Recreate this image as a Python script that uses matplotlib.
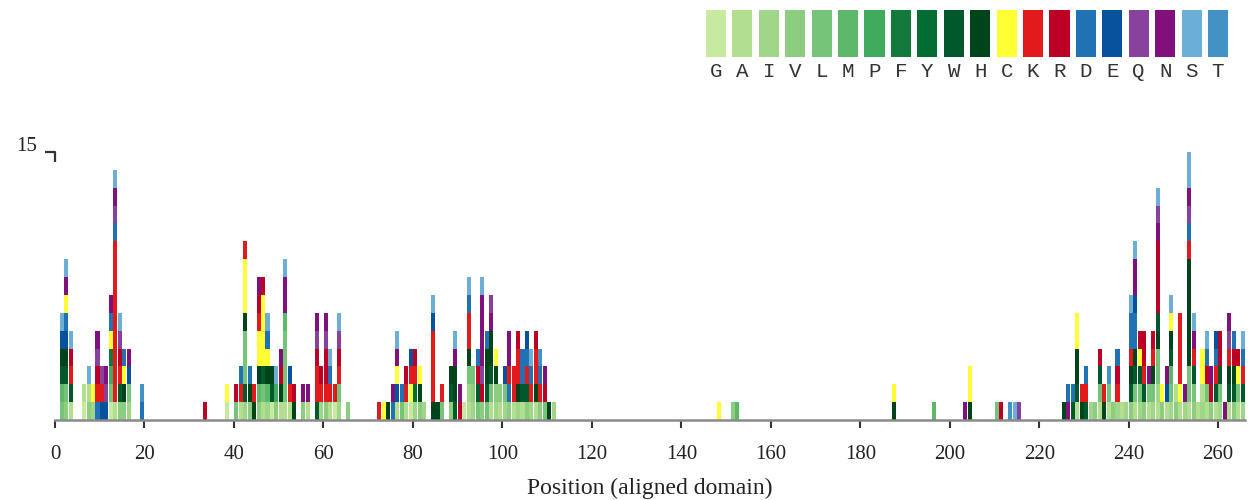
import matplotlib
matplotlib.use("Agg")
import matplotlib.pyplot as plt

# ---------------- data ----------------
residues = list("GAIVLMPFYWHCKRDEQNST")
residue_colors = [
    "#c7e9a0", "#b2df8f", "#9fd68a", "#8ccd80", "#76c47a", "#5db86a", "#41ab5d",
    "#137a3c", "#006d33", "#00592d", "#00441b", "#ffff33", "#e31a1c", "#bd0026",
    "#2171b5", "#08519c", "#88419d", "#810f7c", "#6baed6", "#4292c6",
]

# aligned positions that carry residues, and the residues stacked there (bottom -> top)
positions = [
    2, 3, 4, 7, 8, 9, 10, 11, 12, 13, 14, 15, 16, 17, 20,
    34, 39, 41, 42, 43, 44, 45, 46, 47, 48, 49, 50, 51, 52, 53, 54, 56, 57,
    59, 60, 61, 62, 63, 64, 66,
    73, 74, 75, 76, 77, 78, 79, 80, 81, 82, 83, 85, 86, 87, 89, 90, 91, 92,
    93, 94, 95, 96, 97, 98, 99, 100, 101, 102, 103, 104, 105, 106, 107, 108,
    109, 110, 111, 112,
    149, 152, 153, 188, 197, 204, 205, 211, 212, 214, 215, 216,
    226, 227, 228, 229, 230, 231, 232, 233, 234, 235, 236, 237, 238, 239, 240,
    241, 242, 243, 244, 245, 246, 247, 248, 249, 250, 251, 252, 253, 254, 255,
    256, 257, 258, 259, 260, 261, 262, 263, 264, 265, 266,
]
stacks = [
    "LMWHES", "VLWHEDCNS", "AWKRS", "GA", "VAS", "IC", "DKRQN", "EKQ", "EQN",
    "GLPFCDN", "AKKKKKKKKKDQNS", "VWKRQS", "VHCD", "ILEN", "DT",
    "R", "GC", "LR", "AKD", "IWLLLHCCCK", "VHD", "HK", "VMHCCKRN", "ALWCCCCR",
    "IMHCDS", "GWH", "VPS", "AHRN", "ALLLLMNNS", "AKE", "HR", "VN", "AN",
    "WKKRQN", "IKR", "VKRRQN", "AKDS", "GK", "ILKRQS", "V",
    "K", "C", "H", "DN", "AECNS", "LD", "AKR", "GCKE", "IYKR", "VHC", "I",
    "HKKKKES", "H", "LK", "VWH", "WHHNS", "RN", "G",
    "AILHKKDS", "IVL", "LWRD", "VRQNNNNS", "LWHHD", "ALWHHNQ", "IVHC", "AV",
    "ILE", "VDKNN", "AKK", "IHKKR", "AWDD", "VWKDE", "IKDS", "AHKKR",
    "VKDT", "LRN", "H", "I",
    "C", "V", "M", "HC", "M", "N", "HCC", "L", "R", "T", "S", "Q",
    "H", "ND", "WD", "AWHHCC", "HK", "WKD", "I", "V", "ALWR", "HK", "ALT", "V",
    "IKRD", "A", "I",
    "VWHKDDS", "ALWHDDENNS", "ILWCR", "VWKRR", "ALN", "ILHKR", "AILLHWRRRRNQS",
    "VC", "AEN", "ILMWHCS", "VA", "ACKKKK", "IN", "ALLHHHHHHKDQNSS", "VLWKNS",
    "A", "IACC", "ALRDS", "VRN", "AWKDE", "ILWRR", "N", "AWHKQN", "VWHRD",
    "ALCR", "IWKDS",
]
x_ticks = list(range(0, 261, 20))
y_mark = 15
x_max = 266

# ---------------- figure ----------------
W, H = 1249, 500
fig = plt.figure(figsize=(W / 100, H / 100), dpi=100)
serif = ["Liberation Serif", "DejaVu Serif"]

ax = fig.add_axes([55 / W, 80 / H, 1190 / W, 268 / H])
color_of = dict(zip(residues, residue_colors))
xs, bottoms, cols = [], [], []
for p, s in zip(positions, stacks):
    for k, aa in enumerate(s):
        xs.append(p - 0.5)
        bottoms.append(k)
        cols.append(color_of[aa])
ax.bar(xs, 1.0, bottom=bottoms, width=0.9, color=cols, linewidth=0)

ax.set_xlim(0, x_max)
ax.set_ylim(0, y_mark)
for side in ("top", "right", "left"):
    ax.spines[side].set_visible(False)
ax.spines["bottom"].set_color("#8a8a8a")
ax.spines["bottom"].set_linewidth(1.8)
ax.spines["bottom"].set_zorder(5)
ax.set_yticks([])
ax.set_xticks(x_ticks)
ax.set_xticklabels([str(t) for t in x_ticks], fontfamily=serif, fontsize=15, color="#222222")
ax.tick_params(axis="x", direction="out", length=6, width=1.5, color="#333333", pad=12)
ax.set_xlabel("Position (aligned domain)", fontfamily=serif, fontsize=17, color="#222222", labelpad=10)

# y marker "15 ┐"
ax.plot([-2.3, 0, 0], [y_mark, y_mark, y_mark - 0.55], color="#333333", lw=1.6,
        clip_on=False, solid_capstyle="butt")
ax.text(-4.0, y_mark + 0.3, str(y_mark), ha="right", va="center",
        fontfamily=serif, fontsize=15, color="#222222")

# legend of residue colours
lax = fig.add_axes([702.8 / W, (H - 57) / H, 528.4 / W, 47 / H])
lax.bar(range(len(residues)), 1.0, width=0.76, color=residue_colors, linewidth=0)
lax.set_xlim(-0.5, len(residues) - 0.5)
lax.set_ylim(0, 1)
lax.axis("off")
for i, r in enumerate(residues):
    lax.text(i, -0.3, r, ha="center", va="center",
             fontfamily=["Liberation Mono", "DejaVu Sans Mono"], fontsize=15, color="#333333")

fig.savefig("out.png", dpi=100)
